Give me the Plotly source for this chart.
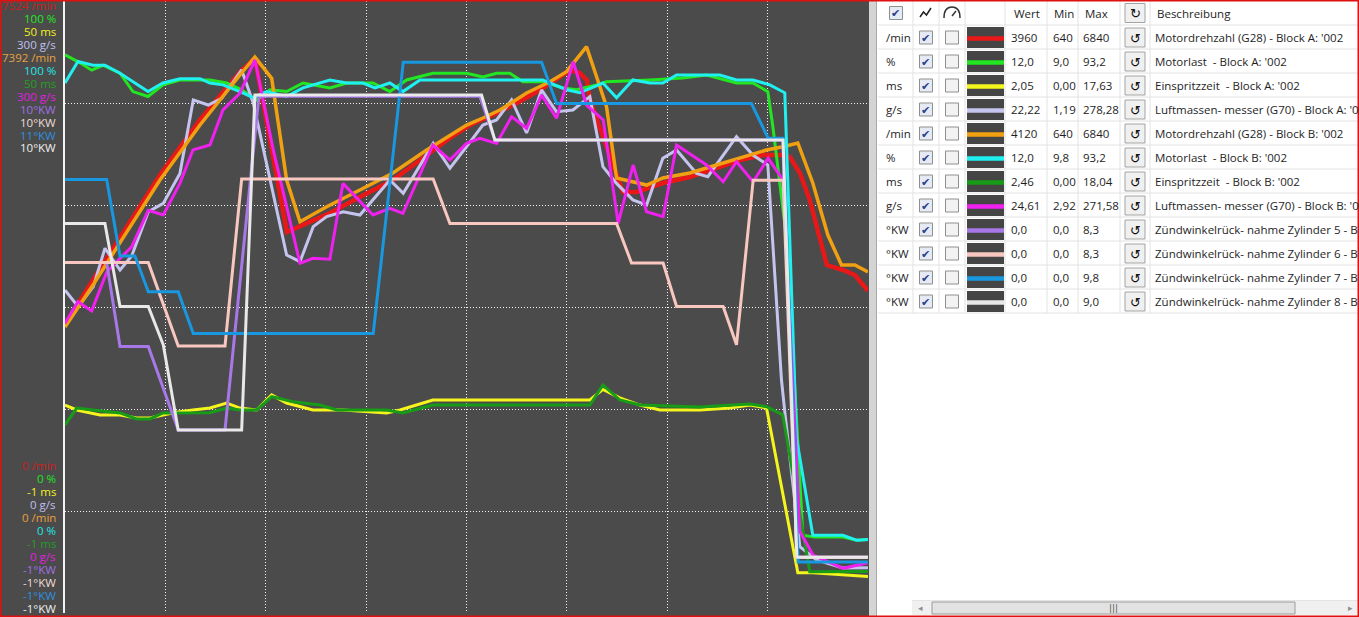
import plotly.graph_objects as go

W, H = 1359, 617

# ---------------- channel scales (left strip labels) ----------------
units = ["/min", "%", "ms", "g/s", "/min", "%", "ms", "g/s", "°KW", "°KW", "°KW", "°KW"]
scale_max = [7524, 100, 50, 300, 7392, 100, 50, 300, 10, 10, 11, 10]
scale_min = [0, 0, -1, 0, 0, 0, -1, 0, -1, -1, -1, -1]

line_colors = ["#e81818", "#22e622", "#f5f51e", "#c4c4ee", "#f0a010", "#20f0f0",
               "#169c16", "#f020f0", "#a878e8", "#f8c8c0", "#1898e0", "#e8e8e8"]
label_colors = ["#c82020", "#22e622", "#f0f020", "#c0c0f0", "#e8a040", "#20e8e8",
                "#22a022", "#e020e0", "#a070e0", "#f0dcd4", "#2f8fdf", "#f0f0f0"]
line_widths = [4.5, 3, 3, 3, 3.5, 3, 3, 3, 3, 3, 3, 3]

# ---------------- series data (time, value) ----------------
rpm_a_t = [0, 2.79, 9.46, 13.45, 17.43, 18.92, 22.11, 23.41, 26.39, 29.38, 32.67, 36.06, 38.35, 40.34,
           42.63, 45.02, 47.31, 49.30, 50.30, 51.29, 51.99, 52.29, 55.58, 56.97, 59.56, 62.25, 64.94,
           67.23, 69.52, 71.51, 72.21, 73.21, 74.20, 75.90, 77.49, 78.69, 80]
rpm_a = [3541, 4094, 5385, 6061, 6651, 6823, 4684, 4758, 4918, 5114, 5323, 5631, 5840, 5999, 6122,
         6270, 6430, 6590, 6676, 6639, 6553, 6307, 5176, 5176, 5286, 5360, 5471, 5569, 5631, 5631,
         5606, 5409, 5077, 4278, 4217, 4155, 3960]

load_a_t = [0, 1.49, 2.66, 3.78, 5.48, 6.77, 8.27, 9.76, 11.45, 14.44, 16.11, 17.60, 19.09, 20.42,
            22.08, 23.71, 26.39, 28.06, 30.68, 32.37, 34.03, 36.65, 40.01, 41.63, 43.00, 44.32, 45.62,
            47.61, 49.60, 50.96, 52.96, 53.95, 58.27, 61.55, 63.91, 66.90, 68.53, 70.02, 70.52, 71.91,
            73.51, 74.70, 77.49, 78.88, 80]
load_a = [91.2, 89.9, 88.7, 89.5, 88.2, 85.2, 84.4, 86.3, 87.1, 87.1, 86.6, 85.5, 83.8, 85.5, 85.2,
          86.6, 85.8, 86.6, 86.6, 85.2, 87.1, 88.2, 88.2, 87.6, 88.2, 88.2, 86.8, 86.8, 85.8, 85.5,
          86.3, 86.8, 87.1, 87.4, 87.9, 86.6, 86.6, 85.2, 79.5, 60.9, 12.7, 12.4, 12.4, 11.9, 12.0]

inj_a_t = [0, 1.17, 3.49, 5.48, 7.14, 8.47, 9.76, 11.45, 12.75, 14.44, 16.11, 17.43, 19.09, 20.59,
           22.08, 24.70, 27.69, 32.04, 33.37, 36.65, 52.29, 53.59, 55.28, 57.27, 59.26, 63.25, 66.24,
           68.23, 69.89, 73.01, 74.50, 80]
inj_a = [16.33, 15.92, 15.50, 15.50, 15.25, 15.25, 15.50, 15.78, 15.92, 16.08, 16.50, 16.08, 15.92,
         17.17, 16.50, 15.92, 15.92, 15.67, 15.92, 16.75, 16.75, 17.63, 16.92, 16.33, 15.92, 15.92,
         16.08, 16.33, 16.08, 2.36, 2.36, 2.05]

maf_a_t = [0, 1.32, 2.82, 3.98, 5.48, 6.64, 8.30, 9.79, 11.45, 12.78, 14.27, 15.61, 17.60, 18.76,
           22.08, 23.41, 24.73, 26.07, 27.72, 29.38, 32.37, 33.70, 36.68, 38.35, 40.01, 41.63, 43.00,
           44.49, 45.99, 47.48, 48.97, 50.60, 52.29, 53.59, 54.95, 56.57, 57.94, 59.56, 60.93, 62.92,
           64.04, 66.90, 68.53, 70.02, 71.38, 71.71, 73.21, 74.87, 77.49, 80]
maf_a = [158.3, 150.1, 160.0, 178.8, 168.1, 175.0, 196.7, 200.8, 215.5, 251.5, 249.0, 252.3, 266.2,
         249.9, 175.5, 172.2, 189.4, 194.3, 196.7, 195.1, 212.3, 205.7, 230.2, 218.0, 228.6, 239.2,
         241.7, 251.5, 235.3, 256.4, 245.7, 246.6, 253.1, 218.8, 210.6, 202.5, 200.0, 222.9, 227.0,
         215.5, 213.9, 233.5, 224.5, 219.6, 114.2, 98.7, 32.5, 26.0, 22.1, 22.22]

rpm_b_t = [0, 2.79, 9.46, 13.45, 17.43, 18.92, 20.59, 22.08, 23.41, 26.07, 29.38, 32.67, 36.03, 38.35,
           40.01, 41.63, 43.33, 45.99, 48.31, 49.97, 51.96, 52.96, 53.95, 54.95, 57.94, 59.56, 62.25,
           64.91, 67.53, 69.89, 71.51, 73.01, 74.50, 76.00, 77.36, 78.69, 80]
rpm_b = [3454, 3962, 5230, 5894, 6498, 6715, 6458, 5230, 4726, 4907, 5109, 5314, 5592, 5773, 5894,
         5979, 6075, 6281, 6417, 6538, 6840, 6477, 6115, 5254, 5169, 5254, 5314, 5411, 5508, 5592,
         5632, 5677, 5194, 4565, 4203, 4203, 4120]

load_b_t = [0, 1.29, 2.79, 3.98, 5.48, 8.27, 9.76, 11.45, 13.45, 14.44, 15.74, 17.43, 18.73, 20.09,
            22.08, 23.71, 26.39, 28.06, 29.68, 30.88, 32.37, 33.67, 35.36, 47.61, 48.31, 49.97, 51.29,
            53.59, 54.95, 56.57, 58.27, 59.56, 60.93, 65.24, 66.90, 68.53, 70.22, 71.71, 72.88, 74.50,
            77.49, 78.86, 80]
load_b = [86.6, 90.1, 89.5, 89.5, 88.2, 85.2, 86.6, 87.3, 87.3, 86.6, 86.3, 85.2, 84.2, 85.2, 84.4,
          85.8, 87.1, 86.6, 86.6, 85.8, 86.6, 85.2, 87.1, 87.1, 86.6, 85.5, 85.0, 86.6, 84.2, 87.1,
          86.6, 86.6, 87.9, 87.9, 87.1, 87.1, 86.3, 85.0, 28.6, 12.7, 12.7, 11.9, 12.0]

inj_b_t = [0, 1.17, 2.79, 5.48, 7.14, 8.47, 9.76, 12.75, 14.44, 16.11, 17.43, 19.09, 20.59, 22.71,
           25.40, 27.06, 32.04, 33.67, 36.65, 52.29, 53.59, 55.28, 57.27, 63.25, 66.24, 68.23, 69.89,
           71.51, 74.20, 80]
inj_b = [14.67, 16.08, 15.92, 15.67, 15.17, 15.17, 15.67, 15.67, 15.69, 16.08, 15.92, 15.92, 17.03,
         16.61, 16.33, 15.92, 15.92, 15.67, 16.33, 16.33, 18.0, 16.75, 16.33, 16.17, 16.33, 16.42,
         16.19, 15.50, 2.44, 2.46]

maf_b_t = [0, 1.29, 2.66, 4.15, 5.31, 6.64, 8.30, 9.79, 11.45, 12.75, 14.44, 15.74, 17.43, 18.92,
           20.75, 23.41, 24.70, 26.39, 27.69, 30.68, 32.37, 33.67, 36.65, 38.35, 40.01, 41.33, 43.00,
           44.49, 45.99, 47.48, 48.97, 50.63, 51.96, 53.62, 55.11, 56.60, 57.94, 59.59, 60.93, 63.91,
           65.57, 66.90, 68.56, 70.05, 71.54, 73.21, 74.53, 77.52, 80]
maf_b = [142.0, 152.6, 148.1, 167.0, 173.0, 179.5, 197.4, 195.1, 210.6, 227.0, 229.4, 246.6, 254.8,
         271.1, 227.0, 171.4, 173.9, 173.4, 210.6, 195.1, 198.4, 195.9, 229.4, 222.1, 230.2, 232.7,
         230.2, 243.3, 237.6, 253.9, 242.5, 270.2, 249.0, 241.7, 191.0, 219.6, 196.7, 194.3, 229.4,
         219.6, 211.4, 221.2, 211.4, 222.9, 212.3, 39.9, 28.4, 21.9, 24.61]

kw5_t = [0, 4.15, 5.48, 8.30, 11.28, 15.94, 19.32, 41.33, 42.83, 71.51, 72.91, 80]
kw5 = [5.30, 5.30, 3.79, 3.79, 2.29, 2.29, 8.29, 8.29, 7.50, 7.50, 0.0, 0.0]

kw6_t = [0, 8.30, 11.28, 15.94, 17.60, 36.68, 38.35, 54.95, 56.44, 59.59, 60.93, 65.57, 66.90, 68.56,
         71.54, 72.91, 80]
kw6 = [5.30, 5.30, 3.80, 3.80, 6.80, 6.80, 6.00, 6.00, 5.29, 5.29, 4.51, 4.51, 3.82, 6.78, 6.78, 0.0, 0.0]

kw7_t = [0, 4.15, 5.48, 6.97, 8.30, 11.28, 12.78, 30.71, 33.70, 47.48, 48.97, 68.39, 70.05, 71.54,
         73.04, 80]
kw7 = [7.50, 7.50, 6.00, 6.00, 5.30, 5.30, 4.48, 4.48, 9.8, 9.8, 8.99, 8.99, 8.31, 8.31, 0.0, 0.0]

kw8_t = [0, 3.98, 5.48, 8.30, 9.79, 11.28, 17.60, 18.92, 41.50, 42.83, 71.54, 72.91, 80]
kw8 = [6.00, 6.00, 4.51, 4.51, 3.82, 2.29, 2.29, 8.31, 8.31, 7.50, 7.50, 0.0, 0.0]

series_t = [rpm_a_t, load_a_t, inj_a_t, maf_a_t, rpm_b_t, load_b_t, inj_b_t, maf_b_t, kw5_t, kw6_t, kw7_t, kw8_t]
series_v = [rpm_a, load_a, inj_a, maf_a, rpm_b, load_b, inj_b, maf_b, kw5, kw6, kw7, kw8]

# ---------------- table contents ----------------
tbl_wert = ["3960", "12,0", "2,05", "22,22", "4120", "12,0", "2,46", "24,61", "0,0", "0,0", "0,0", "0,0"]
tbl_min = ["640", "9,0", "0,00", "1,19", "640", "9,8", "0,00", "2,92", "0,0", "0,0", "0,0", "0,0"]
tbl_max = ["6840", "93,2", "17,63", "278,28", "6840", "93,2", "18,04", "271,58", "8,3", "8,3", "9,8", "9,0"]
tbl_desc = ["Motordrehzahl (G28) - Block A: '002", "Motorlast  - Block A: '002",
            "Einspritzzeit  - Block A: '002", "Luftmassen- messer (G70) - Block A: '002",
            "Motordrehzahl (G28) - Block B: '002", "Motorlast  - Block B: '002",
            "Einspritzzeit  - Block B: '002", "Luftmassen- messer (G70) - Block B: '002",
            "Zündwinkelrück- nahme Zylinder 5 - Block B: '022",
            "Zündwinkelrück- nahme Zylinder 6 - Block B: '022",
            "Zündwinkelrück- nahme Zylinder 7 - Block B: '022",
            "Zündwinkelrück- nahme Zylinder 8 - Block B: '022"]

BG = "#4b4b4b"
FONT = "Open Sans"
TFS = 11.5  # table font size


def PX(px):
    return px / W


def PY(py):
    return 1 - py / H


fig = go.Figure()
for i in range(12):
    fig.add_trace(go.Scatter(
        x=series_t[i], y=series_v[i], mode="lines",
        line=dict(color=line_colors[i], width=line_widths[i]),
        yaxis="y" if i == 0 else f"y{i + 1}",
        hoverinfo="skip", showlegend=False))

shapes = []
ann = []


def rect(x0, y0, x1, y1, fill=None, line=None, lw=1, layer="above"):
    shapes.append(dict(type="rect", xref="paper", yref="paper", x0=PX(x0), x1=PX(x1), y0=PY(y1), y1=PY(y0),
                       fillcolor=fill if fill else "rgba(0,0,0,0)",
                       line=dict(color=line if line else "rgba(0,0,0,0)", width=lw if line else 0),
                       layer=layer))


def hline(x0, x1, y, color, lw=1):
    shapes.append(dict(type="line", xref="paper", yref="paper", x0=PX(x0), x1=PX(x1), y0=PY(y), y1=PY(y),
                       line=dict(color=color, width=lw)))


def vline(x, y0, y1, color, lw=1):
    shapes.append(dict(type="line", xref="paper", yref="paper", x0=PX(x), x1=PX(x), y0=PY(y0), y1=PY(y1),
                       line=dict(color=color, width=lw)))


def text(x, y, s, color="#1e1e1e", size=TFS, anchor="left", family=FONT):
    ann.append(dict(xref="paper", yref="paper", x=PX(x), y=PY(y), text=s, showarrow=False,
                    xanchor=anchor, yanchor="middle", font=dict(color=color, size=size, family=family)))


def path(pts, color, lw=1.5):
    d = "M " + " L ".join(f"{PX(a):.5f},{PY(b):.5f}" for a, b in pts)
    shapes.append(dict(type="path", xref="paper", yref="paper", path=d, line=dict(color=color, width=lw)))


# dark chart background incl. left label strip
rect(0, 0, 869, H, fill=BG, layer="below")

# left strip labels
for i in range(12):
    u = units[i]
    top = f"{scale_max[i]}{u}" if u == "°KW" else f"{scale_max[i]} {u}"
    bot = f"{scale_min[i]}{u}" if u == "°KW" else f"{scale_min[i]} {u}"
    text(58, 6 + 12.9 * i, top, color=label_colors[i], size=11.5, anchor="right")
    text(58, 465 + 13.0 * i, bot, color=label_colors[i], size=11.5, anchor="right")

# right panel
rect(877, 0, W, H, fill="white", layer="below")
rect(869, 0, 877, H, fill="#d4d4d4")
vline(876.5, 0, H, "#a8a8a8", 1)

cols = [913, 939, 965, 1005, 1047, 1078, 1120, 1150]
for c in cols:
    vline(c, 1, 313, "#e2e2e2", 1)
for k in range(13):
    hline(878, W, 25 + 24 * k, "#e2e2e2", 1)


def checkbox(cx, cy, checked):
    rect(cx - 6.5, cy - 6.5, cx + 6.5, cy + 6.5, fill="#e6eaf4" if checked else "#f2f2f2", line="#8e8f8f", lw=1)
    if checked:
        text(cx - 0.5, cy + 0.5, "✔", color="#2b3f8c", size=11, anchor="center", family="DejaVu Sans")


def button(cx, cy, glyph):
    rect(cx - 10, cy - 9.5, cx + 10, cy + 9.5, fill="#f0f0f0", line="#a3a3a3", lw=1)
    text(cx, cy + 0.5, glyph, color="#111111", size=13, anchor="center", family="DejaVu Sans")


# header row
checkbox(896, 13, True)
path([(920, 17), (923.5, 12), (926.5, 15), (931, 8)], "#222222", 1.5)
shapes.append(dict(type="path", xref="paper", yref="paper",
                   path=f"M {PX(944):.5f},{PY(18):.5f} Q {PX(944):.5f},{PY(7):.5f} {PX(952):.5f},{PY(7):.5f} "
                        f"Q {PX(960):.5f},{PY(7):.5f} {PX(960):.5f},{PY(18):.5f}",
                   line=dict(color="#333333", width=1.5)))
path([(952, 16), (956, 11)], "#333333", 1.5)
text(1012, 13, "Wert")
text(1052, 13, "Min")
text(1083, 13, "Max")
button(1135, 13, "↻")
text(1155, 13, "Beschreibung")

# data rows
for r in range(12):
    top = 25 + 24 * r
    cy = top + 12.5
    text(884, cy, units[r])
    checkbox(926, cy, True)
    checkbox(952, cy, False)
    rect(967, top + 2, 1004, top + 23, fill="#454545")
    hline(967, 1004, top + 13.5, line_colors[r], 4.5)
    text(1009, cy, tbl_wert[r])
    text(1051, cy, tbl_min[r])
    text(1081, cy, tbl_max[r])
    button(1135, cy, "↺")
    text(1153, cy, tbl_desc[r].replace("  ", " \u00a0"))

# horizontal scrollbar
rect(912, 600, W, 615, fill="#f0f0f0")
hline(912, W, 600.5, "#e4e4e4", 1)
text(920, 608, "◂", color="#909090", size=9, anchor="center", family="DejaVu Sans")
text(1350, 608, "▸", color="#909090", size=9, anchor="center", family="DejaVu Sans")
rect(932, 602, 1295, 614, fill="#e2e2e2", line="#9c9c9c", lw=1)
text(1113, 608, "|||", color="#555555", size=9, anchor="center", family="DejaVu Sans")

# red window frame
shapes.append(dict(type="rect", xref="paper", yref="paper", x0=0, x1=1, y0=0, y1=1,
                   line=dict(color="#e01010", width=3), fillcolor="rgba(0,0,0,0)"))

layout = dict(
    width=W, height=H, margin=dict(l=0, r=0, t=0, b=0, pad=0),
    paper_bgcolor="white", plot_bgcolor=BG, showlegend=False,
    font=dict(family=FONT, size=12),
    xaxis=dict(domain=[PX(65), PX(868)], range=[0, 80], tickvals=list(range(10, 81, 10)),
               showticklabels=False, ticks="", showgrid=True, gridcolor="#f4f4f4", gridwidth=1,
               griddash="1px,2px", zeroline=False, showline=False, fixedrange=True),
    yaxis=dict(domain=[PY(613), PY(1)], range=[scale_min[0], scale_max[0]],
               tickvals=[scale_max[0] * k / 6 for k in range(1, 6)], showticklabels=False, ticks="",
               showgrid=True, gridcolor="#f4f4f4", gridwidth=1, griddash="1px,2px", zeroline=False,
               showline=True, linecolor="#f2f2f2", linewidth=2, fixedrange=True),
    shapes=shapes, annotations=ann,
)
for i in range(1, 12):
    layout[f"yaxis{i + 1}"] = dict(overlaying="y", range=[scale_min[i], scale_max[i]], visible=False,
                                   fixedrange=True)
fig.update_layout(**layout)

fig.write_html("out.html", config={"displayModeBar": False},
               post_script="document.body.style.margin='0';document.body.style.overflow='hidden';")
